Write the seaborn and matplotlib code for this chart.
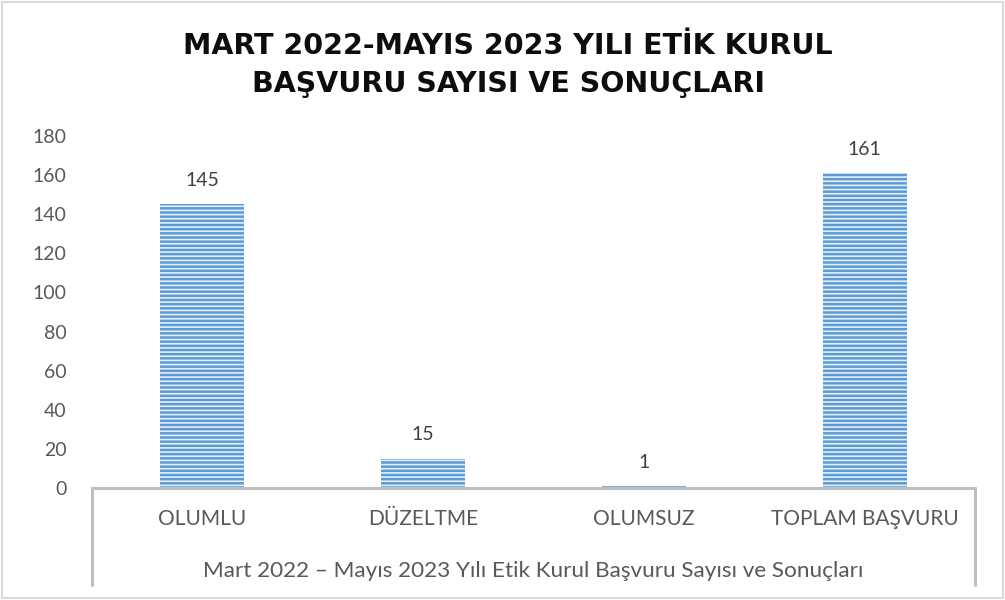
import matplotlib
matplotlib.use("Agg")
import matplotlib.pyplot as plt
import seaborn as sns
import pandas as pd
from matplotlib.lines import Line2D
from matplotlib.patches import Rectangle

categories = ["OLUMLU", "DÜZELTME", "OLUMSUZ", "TOPLAM BAŞVURU"]
values = [145, 15, 1, 161]
title_lines = ["MART 2022-MAYIS 2023 YILI ETİK KURUL", "BAŞVURU SAYISI VE SONUÇLARI"]
series_name = "Mart 2022 – Mayıs 2023 Yılı Etik Kurul Başvuru Sayısı ve Sonuçları"
yticks = [0, 20, 40, 60, 80, 100, 120, 140, 160, 180]

sns.set_theme(style="white")
plt.rcParams['font.family'] = ['Lato', 'DejaVu Sans']
plt.rcParams['hatch.linewidth'] = 1.2

df = pd.DataFrame({"cat": categories, "val": values})

fig = plt.figure(figsize=(10.05, 6.0), dpi=100)
ax = fig.add_axes([92/1005, 112/600, 883/1005, 352/600])

sns.barplot(data=df, x="cat", y="val", ax=ax, color="#5B9BD5", width=0.38,
            edgecolor="#E3EEF9", linewidth=0, hatch="----", saturation=1)

ax.set_ylim(0, 180)
ax.set_xlim(-0.5, 3.5)
ax.set_yticks(yticks)
ax.set_yticklabels([str(t) for t in yticks], fontsize=14, color="#595959")
ax.tick_params(axis="y", length=0, pad=18.5)
ax.tick_params(axis="x", length=0, pad=15, labelsize=15, labelcolor="#595959")
ax.set_xlabel("")
ax.set_ylabel("")
for s in ax.spines.values():
    s.set_visible(False)

for c in ax.containers:
    ax.bar_label(c, labels=[str(v) for v in values], padding=11, fontsize=14, color="#404040")

# axis frame lines
gray = "#BFBFBF"
ax.add_line(Line2D([0, 1], [0, 0], transform=ax.transAxes, color=gray, lw=2.2, clip_on=False))
ax.add_line(Line2D([0, 0], [0, -0.276], transform=ax.transAxes, color=gray, lw=2.2, clip_on=False))
ax.add_line(Line2D([1, 1], [0, -0.276], transform=ax.transAxes, color=gray, lw=2.2, clip_on=False))

ax.text(0.5, -0.237, series_name, transform=ax.transAxes, ha="center", va="center",
        fontsize=16.2, color="#595959")

title_font = ['DejaVu Sans']
fig.text(508/1005, 1 - 46/600, title_lines[0], ha="center", va="center",
         fontsize=20.5, fontweight="bold", color="#0D0D0D", family=title_font)
fig.text(508/1005, 1 - 84/600, title_lines[1], ha="center", va="center",
         fontsize=20.5, fontweight="bold", color="#0D0D0D", family=title_font)

fig.patches.append(Rectangle((0.002, 0.004), 0.996, 0.993, transform=fig.transFigure,
                             fill=False, edgecolor="#D9D9D9", lw=1.5))

fig.savefig("out.png", dpi=100, facecolor="white")
